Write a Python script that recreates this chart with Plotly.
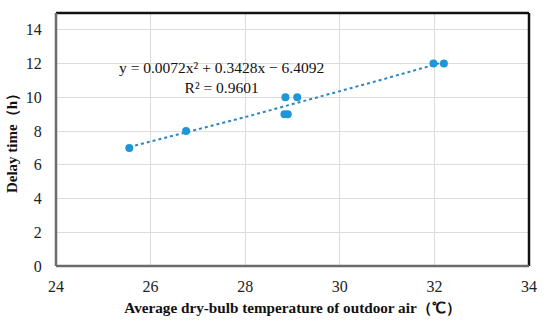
import numpy as np
import plotly.graph_objects as go

# Data
temps = [25.55, 26.75, 28.85, 29.1, 28.83, 28.9, 31.98, 32.2]
delays = [7, 8, 10, 10, 9, 9, 12, 12]
coef = [0.0072, 0.3428, -6.4092]  # quadratic trendline coefficients
x_ticks = [24, 26, 28, 30, 32, 34]
y_ticks = [0, 2, 4, 6, 8, 10, 12, 14]

tx = np.linspace(min(temps), max(temps), 60)
ty = np.polyval(coef, tx)

fig = go.Figure()
fig.add_trace(go.Scatter(x=tx, y=ty, mode="lines",
                         line=dict(color="#2E86C1", width=2, dash="dot"),
                         hoverinfo="skip", showlegend=False))
fig.add_trace(go.Scatter(x=temps, y=delays, mode="markers",
                         marker=dict(color="#1E96D8", size=8),
                         showlegend=False))

serif = "Liberation Serif"
fig.add_annotation(x=0.349, y=0.745, xref="paper", yref="paper",
                   xanchor="center", yanchor="middle",
                   text="y = 0.0072x² + 0.3428x − 6.4092<br>R² = 0.9601",
                   showarrow=False, align="center",
                   font=dict(family=serif, size=15.5, color="#111111"))

# borders
fig.add_shape(type="line", xref="paper", yref="paper", x0=0, x1=1, y0=1, y1=1,
              line=dict(color="#111111", width=2.5))
fig.add_shape(type="line", xref="paper", yref="paper", x0=1, x1=1, y0=0, y1=1,
              line=dict(color="#111111", width=2.5))
fig.add_shape(type="line", xref="paper", yref="paper", x0=0, x1=0, y0=0, y1=1,
              line=dict(color="#6b6b6b", width=2.5))
fig.add_shape(type="line", xref="paper", yref="paper", x0=0, x1=1, y0=0, y1=0,
              line=dict(color="#6b6b6b", width=2.5))

tickfont = dict(family="Liberation Serif, Times New Roman, serif", size=16, color="#222222")
fig.update_layout(
    width=550, height=325,
    margin=dict(l=56, r=21, t=13, b=59),
    paper_bgcolor="white", plot_bgcolor="white",
    font=dict(family=serif, size=15, color="#222222"),
    xaxis=dict(range=[24, 34], tickvals=x_ticks, showgrid=True,
               gridcolor="#dcdcdc", gridwidth=1, zeroline=False,
               ticks="outside", ticklen=6, tickcolor="rgba(0,0,0,0)",
               tickfont=tickfont, automargin=False,
               title=dict(text="<b>Average dry-bulb temperature of outdoor air（℃）</b>",
                          font=dict(family=serif, size=15.2, color="#111111"),
                          standoff=8)),
    yaxis=dict(range=[0, 15], tickvals=y_ticks, showgrid=True,
               gridcolor="#dcdcdc", gridwidth=1, zeroline=False,
               ticks="outside", ticklen=10, tickcolor="rgba(0,0,0,0)",
               tickfont=tickfont, automargin=False,
               title=dict(text="<b>Delay time（h）</b>",
                          font=dict(family=serif, size=15, color="#111111"),
                          standoff=4)),
)

fig.write_html("out.html", config={"displayModeBar": False},
               post_script="document.body.style.margin='0';")
